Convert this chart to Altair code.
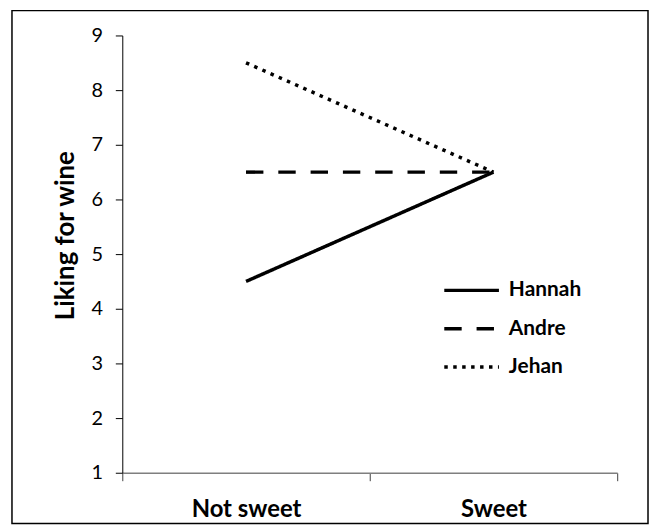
import altair as alt
import pandas as pd

categories = ["Not sweet", "Sweet"]
people = ["Hannah", "Andre", "Jehan"]
hannah = [4.5, 6.5]
andre = [6.5, 6.5]
jehan = [8.5, 6.5]
y_ticks = [1, 2, 3, 4, 5, 6, 7, 8, 9]

rows = []
for name, vals in zip(people, [hannah, andre, jehan]):
    for c, v in zip(categories, vals):
        rows.append({"sweetness": c, "person": name, "liking": v})
df = pd.DataFrame(rows)

FONT = "Lato"

lines = alt.Chart(df).mark_line(color="black", strokeWidth=3.5, strokeCap="butt").encode(
    x=alt.X(
        "sweetness:N",
        sort=categories,
        scale=alt.Scale(type="band", paddingInner=0, paddingOuter=0),
        axis=alt.Axis(
            title=None, tickBand="extent", labelAngle=0, labelFont=FONT,
            labelFontSize=24, labelFontWeight="bold", labelColor="black",
            labelPadding=17, tickSize=8, tickColor="#404040", domainColor="#7f7f7f",
            domainWidth=1.5, grid=False,
        ),
    ),
    y=alt.Y(
        "liking:Q",
        scale=alt.Scale(domain=[1, 9], nice=False, zero=False),
        axis=alt.Axis(
            values=y_ticks, title="Liking for wine", titleFont=FONT, titleFontSize=26,
            titleFontWeight="bold", titleColor="black", titleX=-57, titleY=201,
            titleAngle=-90, titleAlign="center", titleBaseline="middle",
            labelFont=FONT, labelFontSize=20, labelColor="black", labelPadding=13,
            tickSize=7, tickColor="black", domainColor="black", grid=False,
        ),
    ),
    strokeDash=alt.StrokeDash(
        "person:N",
        sort=people,
        scale=alt.Scale(domain=people, range=[[1, 0], [17.5, 15], [3.5, 5.5]]),
        legend=alt.Legend(
            title=None, orient="none", legendX=331, legendY=236, rowPadding=7.5,
            symbolType="M-1.5,0H1.5", symbolSize=1344, symbolStrokeWidth=3.5,
            symbolStrokeColor="black", labelFont=FONT, labelFontSize=21,
            labelFontWeight="bold", labelColor="black", labelOffset=17,
        ),
    ),
)

border = alt.Chart(alt.Data(values=[{}])).mark_rect(
    fillOpacity=0, stroke="black", strokeWidth=1.5
).encode(
    x=alt.value(-111), x2=alt.value(529), y=alt.value(-25), y2=alt.value(491)
)

chart = alt.layer(border, lines).properties(
    width=498,
    height=440,
    padding={"left": 115, "top": 26, "right": 32, "bottom": 60},
    autosize=alt.AutoSizeParams(type="none"),
).configure_view(stroke=None)

chart.save("out.html", embed_options={"renderer": "svg", "actions": False})
